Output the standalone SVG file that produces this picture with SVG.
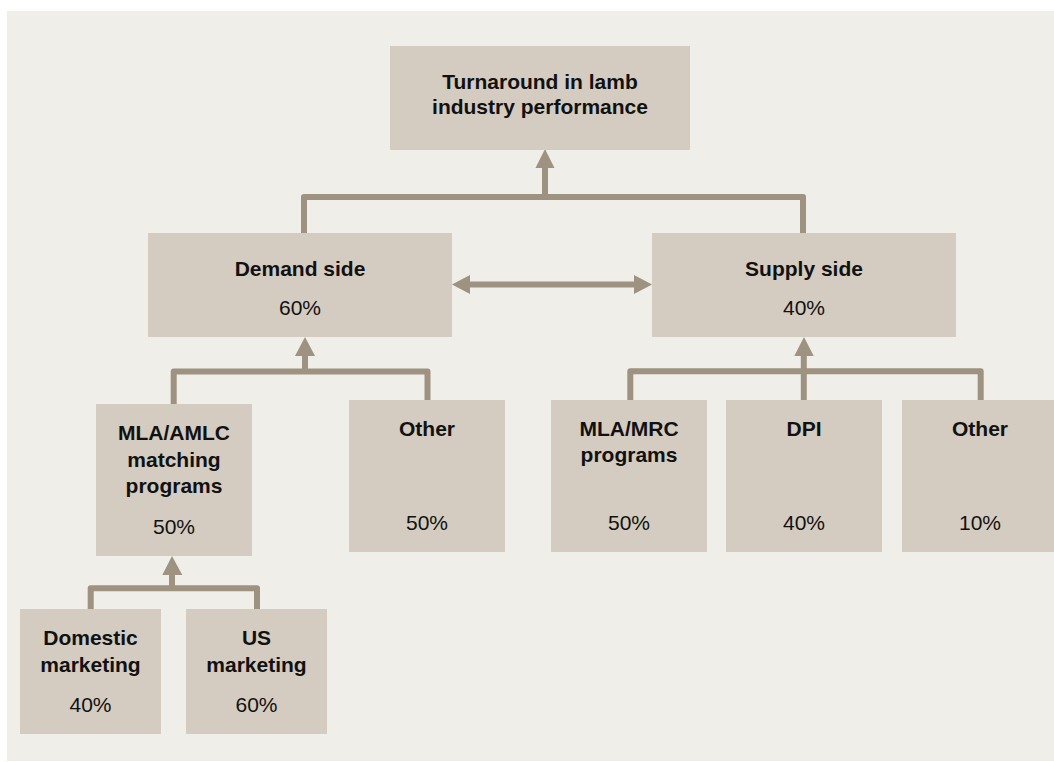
<svg xmlns="http://www.w3.org/2000/svg" width="1054" height="762" viewBox="0 0 1054 762">
<style>
.box{fill:#D4CCC0}
.t{font-family:"Liberation Sans",Arial,sans-serif;font-size:21px;fill:#111;text-anchor:middle}
.b{font-weight:bold}
.c{fill:none;stroke:#9E9280;stroke-width:6;stroke-linejoin:round}
.h{fill:#9E9280}
</style>
<rect x="0" y="0" width="1054" height="762" fill="#FFFFFF"/>
<rect x="7" y="11" width="1047" height="750" fill="#F0EEE9"/>
<g id="connectors">
<path class="c" d="M304,233 V197 H803 V233"/>
<path class="c" d="M545,197 V166"/>
<polygon class="h" points="545,149 535.5,168 554.5,168"/>
<path class="c" d="M468,284.5 H636"/>
<polygon class="h" points="452,284.5 470,275 470,294"/>
<polygon class="h" points="652,284.5 634,275 634,294"/>
<path class="c" d="M173.7,404 V371.5 H427.5 V400"/>
<path class="c" d="M305,371.5 V354"/>
<polygon class="h" points="305,337 295,356 315,356"/>
<path class="c" d="M630.3,400 V371.3 H980.7 V400"/>
<path class="c" d="M803.8,400 V354"/>
<polygon class="h" points="804,337 794.3,356 813.7,356"/>
<path class="c" d="M90.7,609 V588.3 H257 V609"/>
<path class="c" d="M172,588.3 V573"/>
<polygon class="h" points="172,556 162.3,575 182.3,575"/>
</g>
<g id="top">
<rect class="box" x="390" y="46" width="300" height="104"/>
<text class="t b" x="540" y="89">Turnaround in lamb</text>
<text class="t b" x="540" y="114">industry performance</text>
</g>
<g id="demand">
<rect class="box" x="148" y="233" width="304" height="104"/>
<text class="t b" x="300" y="276">Demand side</text>
<text class="t" x="300" y="315">60%</text>
</g>
<g id="supply">
<rect class="box" x="652" y="233" width="304" height="104"/>
<text class="t b" x="804" y="276">Supply side</text>
<text class="t" x="804" y="315">40%</text>
</g>
<g id="mla-amlc">
<rect class="box" x="96" y="404" width="156" height="152"/>
<text class="t b" x="174" y="440">MLA/AMLC</text>
<text class="t b" x="174" y="466.5">matching</text>
<text class="t b" x="174" y="493">programs</text>
<text class="t" x="174" y="534">50%</text>
</g>
<g id="demand-other">
<rect class="box" x="349" y="400" width="156" height="152"/>
<text class="t b" x="427" y="436">Other</text>
<text class="t" x="427" y="530">50%</text>
</g>
<g id="mla-mrc">
<rect class="box" x="551" y="400" width="156" height="152"/>
<text class="t b" x="629" y="436">MLA/MRC</text>
<text class="t b" x="629" y="462">programs</text>
<text class="t" x="629" y="530">50%</text>
</g>
<g id="dpi">
<rect class="box" x="726" y="400" width="156" height="152"/>
<text class="t b" x="804" y="436">DPI</text>
<text class="t" x="804" y="530">40%</text>
</g>
<g id="supply-other">
<rect class="box" x="902" y="400" width="156" height="152"/>
<text class="t b" x="980" y="436">Other</text>
<text class="t" x="980" y="530">10%</text>
</g>
<g id="domestic">
<rect class="box" x="20" y="609" width="141" height="125"/>
<text class="t b" x="90.5" y="645">Domestic</text>
<text class="t b" x="90.5" y="671.5">marketing</text>
<text class="t" x="90.5" y="712">40%</text>
</g>
<g id="us">
<rect class="box" x="186" y="609" width="141" height="125"/>
<text class="t b" x="256.5" y="645">US</text>
<text class="t b" x="256.5" y="671.5">marketing</text>
<text class="t" x="256.5" y="712">60%</text>
</g>
</svg>
